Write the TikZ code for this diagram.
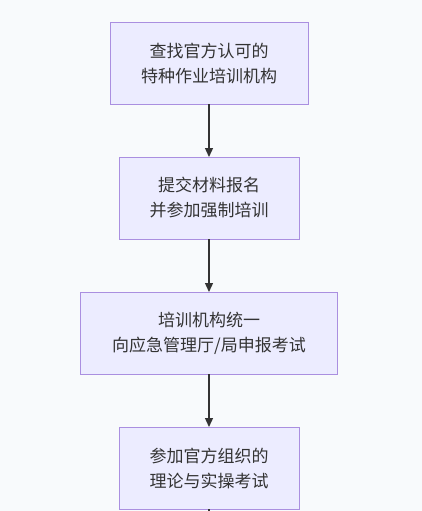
\documentclass[tikz,border=0pt]{standalone}
\usepackage{fontspec}
\setmainfont{Noto Sans CJK SC}
\usetikzlibrary{positioning, arrows.meta}
\definecolor{boxfill}{HTML}{ECECFF}
\definecolor{boxline}{HTML}{AA8FE0}
\definecolor{txtgray}{HTML}{333333}
\definecolor{bgcolor}{HTML}{F8FAFC}
\tikzstyle{pblock} = [rectangle, draw=boxline, line width=0.9pt, fill=boxfill, text=txtgray, align=center, minimum height=82pt, inner sep=0pt, outer sep=0pt, font=\fontsize{17}{25}\selectfont]
\tikzstyle{line} = [draw, line width=1.3pt, color=txtgray, -{Triangle[length=9pt,width=8pt]}]

\begin{document}
\begin{tikzpicture}[x=1pt, y=1pt, node distance = 53pt]
    % Canvas
    \fill [bgcolor] (0,0) rectangle (422,-511);
    \useasboundingbox (0,0) rectangle (422,-511);
    % Place nodes
    \node [pblock, minimum width=198pt] (find) at (209,-63) {查找官方认可的\\特种作业培训机构};
    \node [pblock, minimum width=180pt, below=of find] (apply) {提交材料报名\\并参加强制培训};
    \node [pblock, minimum width=257pt, below=of apply] (report) {培训机构统一\\向应急管理厅/局申报考试};
    \node [pblock, minimum width=180pt, below=of report] (exam) {参加官方组织的\\理论与实操考试};
    \coordinate (next) at (209,-511);
    % Draw edges
    \path [line] (find) -- (apply);
    \path [line] (apply) -- (report);
    \path [line] (report) -- (exam);
    \draw [line width=1.3pt, color=txtgray] (exam) -- (next);
\end{tikzpicture}
\end{document}
